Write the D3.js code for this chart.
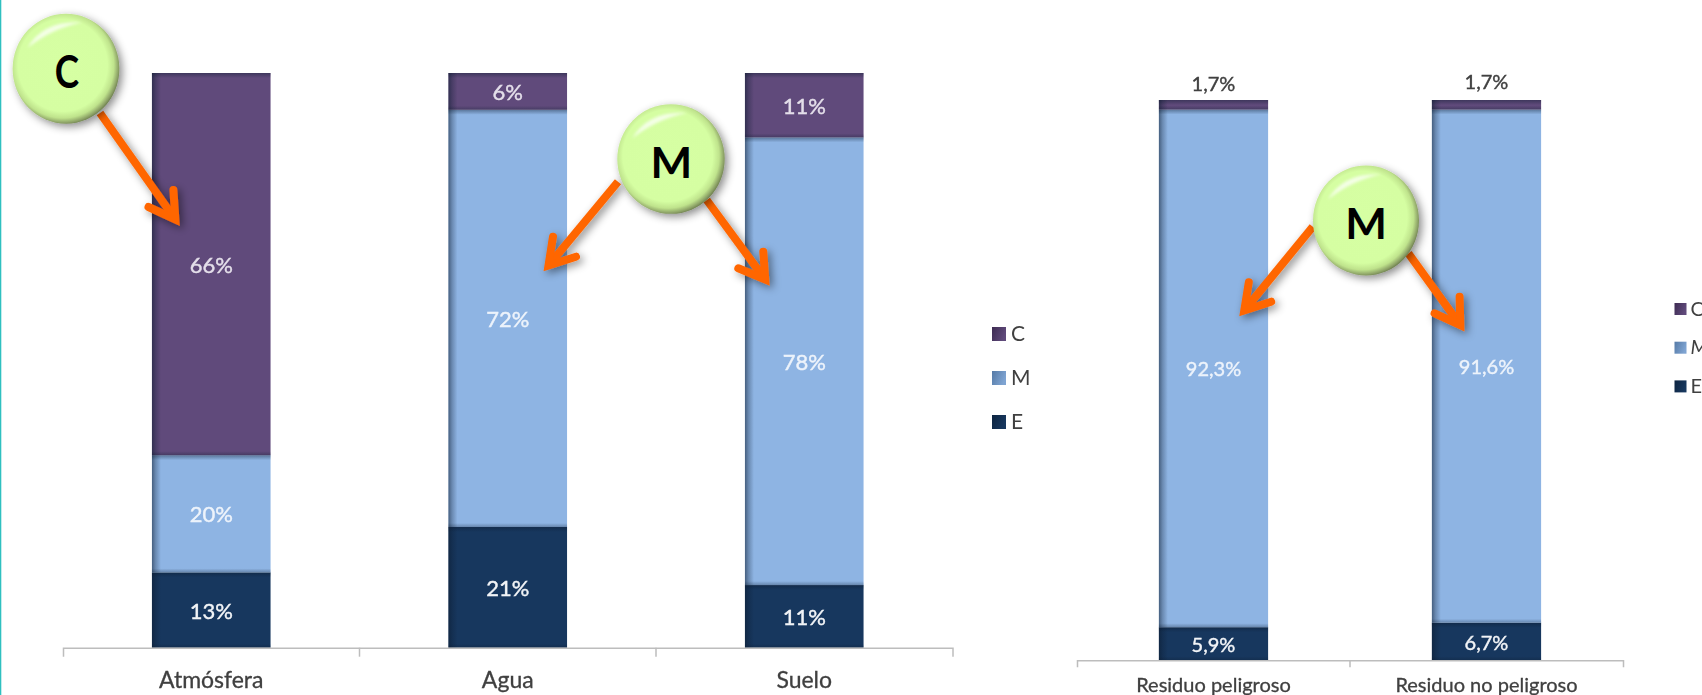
<!DOCTYPE html>
<html>
<head>
<meta charset="utf-8">
<script src="https://cdn.jsdelivr.net/npm/d3@7"></script>
<style>
  html, body { margin: 0; padding: 0; background: #fff; }
  svg { display: block; }
  text { font-family: Lato, "Noto Sans", sans-serif; }
</style>
</head>
<body>
<svg id="chart" width="1702" height="695"></svg>
<script>
// Left chart: share per medium
const medios = ['Atmósfera', 'Agua', 'Suelo'];
const medioC = [66.5, 6.4, 11.2];
const medioM = [20.4, 72.6, 77.9];
const medioE = [13.1, 21.0, 10.9];
const medioEtiquetasC = ['66%', '6%', '11%'];
const medioEtiquetasM = ['20%', '72%', '78%'];
const medioEtiquetasE = ['13%', '21%', '11%'];

// Right chart: share per waste type
const residuos = ['Residuo peligroso', 'Residuo no peligroso'];
const residuoC = [1.7, 1.7];
const residuoM = [92.3, 91.6];
const residuoE = [5.9, 6.7];
const residuoEtiquetasC = ['1,7%', '1,7%'];
const residuoEtiquetasM = ['92,3%', '91,6%'];
const residuoEtiquetasE = ['5,9%', '6,7%'];

const claves = ['E', 'M', 'C'];
const leyenda = ['C', 'M', 'E'];
const colores = { C: '#604a7b', M: '#8eb4e3', E: '#17375e' };
const coloresOscuros = { C: '#3d2b52', M: '#557aa6', E: '#0d2440' };

const svg = d3.select('#chart');
const defs = svg.append('defs');

// Teal line on the left edge
svg.append('rect').attr('x', 0).attr('y', 0).attr('width', 1.3).attr('height', 695).attr('fill', '#2fc0c0');

// Gradients for the inner shadow of the bars
function gradiente(id, x2, y2, stops) {
    const g = defs.append('linearGradient').attr('id', id)
        .attr('x1', 0).attr('y1', 0).attr('x2', x2).attr('y2', y2);
    stops.forEach(s => g.append('stop').attr('offset', s[0]).attr('stop-color', s[1]).attr('stop-opacity', s[2]));
}
gradiente('sombraIzq', 1, 0, [[0, '#0b1a2e', 0.55], [0.4, '#0b1a2e', 0.28], [1, '#0b1a2e', 0]]);
gradiente('sombraArriba', 0, 1, [[0, '#0b1a2e', 0.4], [1, '#0b1a2e', 0]]);
gradiente('sombraAbajo', 0, 1, [[0, '#0b1a2e', 0], [1, '#0b1a2e', 0.3]]);
Object.keys(colores).forEach(k => {
    gradiente('leyenda' + k, 1, 0.4, [[0, coloresOscuros[k], 1], [1, k === 'M' ? '#7fa4d2' : colores[k], 1]]);
});

// Bubble fill and shadows
const burbuja = defs.append('radialGradient').attr('id', 'burbuja')
    .attr('cx', 0.47).attr('cy', 0.47).attr('r', 0.55);
[[0, '#d6ffa3'], [0.76, '#d5fea2'], [0.87, '#bfe38c'], [0.95, '#8ba065'], [1, '#5f6f45']].forEach(s =>
    burbuja.append('stop').attr('offset', s[0]).attr('stop-color', s[1]));

const sombra = defs.append('filter').attr('id', 'sombra')
    .attr('x', '-40%').attr('y', '-40%').attr('width', '180%').attr('height', '180%');
sombra.append('feDropShadow').attr('dx', 3).attr('dy', 3).attr('stdDeviation', 4)
    .attr('flood-color', '#000').attr('flood-opacity', 0.45);

const suave = defs.append('filter').attr('id', 'suave');
suave.append('feGaussianBlur').attr('stdDeviation', 0.5);
const brilloBlur = defs.append('filter').attr('id', 'brilloBlur');
brilloBlur.append('feGaussianBlur').attr('stdDeviation', 1.6);

// Draws one 100% stacked bar chart
function dibujarGrafico(cfg) {
    const filas = cfg.categorias.map((c, i) => ({ cat: c, C: cfg.C[i], M: cfg.M[i], E: cfg.E[i] }));
    const series = d3.stack().keys(claves).offset(d3.stackOffsetExpand)(filas);
    const etiquetas = { C: cfg.etiquetasC, M: cfg.etiquetasM, E: cfg.etiquetasE };

    const x = d3.scaleBand().domain(cfg.categorias).range(cfg.rangoX).paddingInner(0.6).paddingOuter(0.3);
    const y = d3.scaleLinear().domain([0, 1]).range(cfg.rangoY);
    const g = svg.append('g');

    series.forEach(s => {
        const capa = g.append('g').selectAll('g').data(s).enter().append('g');
        const alto = d => y(d[0]) - y(d[1]);
        const cx = d => x(d.data.cat);

        capa.append('rect').attr('x', cx).attr('y', d => y(d[1]))
            .attr('width', x.bandwidth()).attr('height', alto).attr('fill', colores[s.key]);
        // left, top and bottom inner shadow
        capa.append('rect').attr('x', cx).attr('y', d => y(d[1]))
            .attr('width', 9).attr('height', alto).attr('fill', 'url(#sombraIzq)');
        capa.append('rect').attr('x', cx).attr('y', d => y(d[1]))
            .attr('width', x.bandwidth()).attr('height', d => Math.min(5, alto(d))).attr('fill', 'url(#sombraArriba)');
        capa.append('rect').attr('x', cx).attr('y', d => y(d[0]) - Math.min(4, alto(d)))
            .attr('width', x.bandwidth()).attr('height', d => Math.min(4, alto(d))).attr('fill', 'url(#sombraAbajo)');

        // data labels, the thin top segment of the right chart has its label above the bar
        const colorEtiqueta = s.key === 'C' ? (cfg.etiquetaArriba ? '#404040' : '#e4dfea') : s.key === 'M' ? '#edf3fb' : '#f2f4f7';
        capa.append('text')
            .attr('text-anchor', 'middle')
            .attr('dominant-baseline', 'central')
            .attr('filter', 'url(#suave)')
            .attr('font-size', cfg.tamEtiqueta)
            .attr('fill', colorEtiqueta)
            .attr('stroke', colorEtiqueta).attr('stroke-width', 0.4)
            .attr('x', d => cx(d) + x.bandwidth() / 2)
            .attr('y', (d, i) => (s.key === 'C' && cfg.etiquetaArriba)
                ? y(d[1]) - 17 - i * 2
                : (y(d[0]) + y(d[1])) / 2)
            .text((d, i) => etiquetas[s.key][i]);
    });

    // Category axis with separators between the categories
    const eje = g.append('g').attr('transform', `translate(0,${cfg.rangoY[0]})`)
        .call(d3.axisBottom(x).tickSize(0).tickSizeOuter(cfg.marca).tickPadding(cfg.rellenoEje));
    eje.select('.domain').attr('stroke', '#bdbdbd').attr('stroke-width', 1.5);
    eje.selectAll('.tick text')
        .attr('font-size', cfg.tamEje).attr('fill', '#404040').attr('filter', 'url(#suave)')
        .attr('stroke', '#404040').attr('stroke-width', 0.3)
        .style('font-family', 'Lato, "Noto Sans", sans-serif');
    cfg.categorias.slice(1).forEach((c, i) => {
        const px = cfg.rangoX[0] + x.step() * (i + 1);
        eje.append('line').attr('x1', px).attr('x2', px).attr('y1', 0).attr('y2', cfg.marca)
            .attr('stroke', '#bdbdbd').attr('stroke-width', 1.5);
    });

    // Legend
    const ley = g.append('g').selectAll('g').data(leyenda).enter().append('g')
        .attr('transform', (d, i) => `translate(${cfg.leyendaX},${cfg.leyendaY + i * cfg.leyendaPaso})`);
    ley.append('rect').attr('width', cfg.lado).attr('height', cfg.lado)
        .attr('fill', d => `url(#leyenda${d})`);
    ley.append('text')
        .attr('x', cfg.lado + cfg.leyendaHueco).attr('y', cfg.lado / 2 - 1.5)
        .attr('dominant-baseline', 'central')
        .attr('font-size', cfg.tamLeyenda).attr('fill', '#404040').attr('filter', 'url(#suave)')
        .attr('font-style', d => (cfg.leyendaCursiva && d === 'M') ? 'italic' : 'normal')
        .text(d => d);
}

dibujarGrafico({
    categorias: medios, C: medioC, M: medioM, E: medioE,
    etiquetasC: medioEtiquetasC, etiquetasM: medioEtiquetasM, etiquetasE: medioEtiquetasE,
    rangoX: [63, 952.5], rangoY: [647.7, 73],
    tamEtiqueta: 22, tamEje: 23, marca: 9, rellenoEje: 24,
    leyendaX: 992, leyendaY: 327, leyendaPaso: 44, lado: 14, leyendaHueco: 5, tamLeyenda: 21
});

dibujarGrafico({
    categorias: residuos, C: residuoC, M: residuoM, E: residuoE,
    etiquetasC: residuoEtiquetasC, etiquetasM: residuoEtiquetasM, etiquetasE: residuoEtiquetasE,
    rangoX: [1077, 1623], rangoY: [660.3, 100], etiquetaArriba: true,
    tamEtiqueta: 20, tamEje: 20, marca: 7, rellenoEje: 18,
    leyendaX: 1674.5, leyendaY: 303, leyendaPaso: 38.7, lado: 12, leyendaHueco: 4, tamLeyenda: 20, leyendaCursiva: true
});

// Callout arrows: start, tip and the two barbs
const flechas = [
    { ini: [100, 113], punta: [180, 226], a: [173.4, 190], b: [148.5, 207] },
    { ini: [618, 181.7], punta: [543.4, 271.7], a: [553, 236.7], b: [576, 256.7] },
    { ini: [706.7, 200], punta: [770, 286], a: [763.3, 251.7], b: [738.3, 268.3] },
    { ini: [1312.8, 226.7], punta: [1239.2, 316.7], a: [1248.8, 282.3], b: [1271.2, 301.7] },
    { ini: [1408.4, 253.3], punta: [1465, 331.7], a: [1459.6, 296.7], b: [1434.6, 313.3] }
];
const capaFlechas = svg.append('g').attr('filter', 'url(#sombra)');
flechas.forEach(f => {
    // pull the tip back so the mitre ends at the real tip
    const dx = f.punta[0] - f.ini[0], dy = f.punta[1] - f.ini[1];
    const largo = Math.hypot(dx, dy);
    const p = [f.punta[0] - dx / largo * 8, f.punta[1] - dy / largo * 8];
    capaFlechas.append('path')
        .attr('d', d3.line()([f.ini, p]))
        .attr('fill', 'none').attr('stroke', '#ff6600').attr('stroke-width', 8);
    capaFlechas.append('path')
        .attr('d', d3.line()([f.a, p, f.b]))
        .attr('fill', 'none').attr('stroke', '#ff6600').attr('stroke-width', 8)
        .attr('stroke-linecap', 'round').attr('stroke-linejoin', 'miter').attr('stroke-miterlimit', 8);
});

// Green callout bubbles
const burbujas = [
    { letra: 'C', cx: 66, cy: 68.7, rx: 53.4, ry: 55, tx: 67, ty: 70.7, tam: 46, ancho: 0.8 },
    { letra: 'M', cx: 671, cy: 159, rx: 53.7, ry: 54.8, tx: 671.4, ty: 161, tam: 42, ancho: 1.05 },
    { letra: 'M', cx: 1366, cy: 220.5, rx: 53, ry: 55, tx: 1366, ty: 222.5, tam: 42, ancho: 1.05 }
];
burbujas.forEach(b => {
    const g = svg.append('g').attr('transform', `translate(${b.cx},${b.cy})`);
    g.append('ellipse').attr('rx', b.rx).attr('ry', b.ry)
        .attr('fill', 'url(#burbuja)').attr('filter', 'url(#sombra)');
    // crescent highlight at the top left
    g.append('path')
        .attr('d', `M${-b.rx * 0.72},${-b.ry * 0.38} Q${-b.rx * 0.42},${-b.ry * 0.88} ${b.rx * 0.3},${-b.ry * 0.84} Q${-b.rx * 0.25},${-b.ry * 0.74} ${-b.rx * 0.72},${-b.ry * 0.38} Z`)
        .attr('fill', '#ffffff').attr('opacity', 0.75).attr('filter', 'url(#brilloBlur)');
    g.append('text')
        .attr('transform', `translate(${b.tx - b.cx},${b.ty - b.cy}) scale(${b.ancho},1)`)
        .attr('text-anchor', 'middle').attr('dominant-baseline', 'central')
        .attr('font-size', b.tam).attr('font-weight', 700).attr('fill', '#000')
        .text(b.letra);
});
</script>
</body>
</html>
